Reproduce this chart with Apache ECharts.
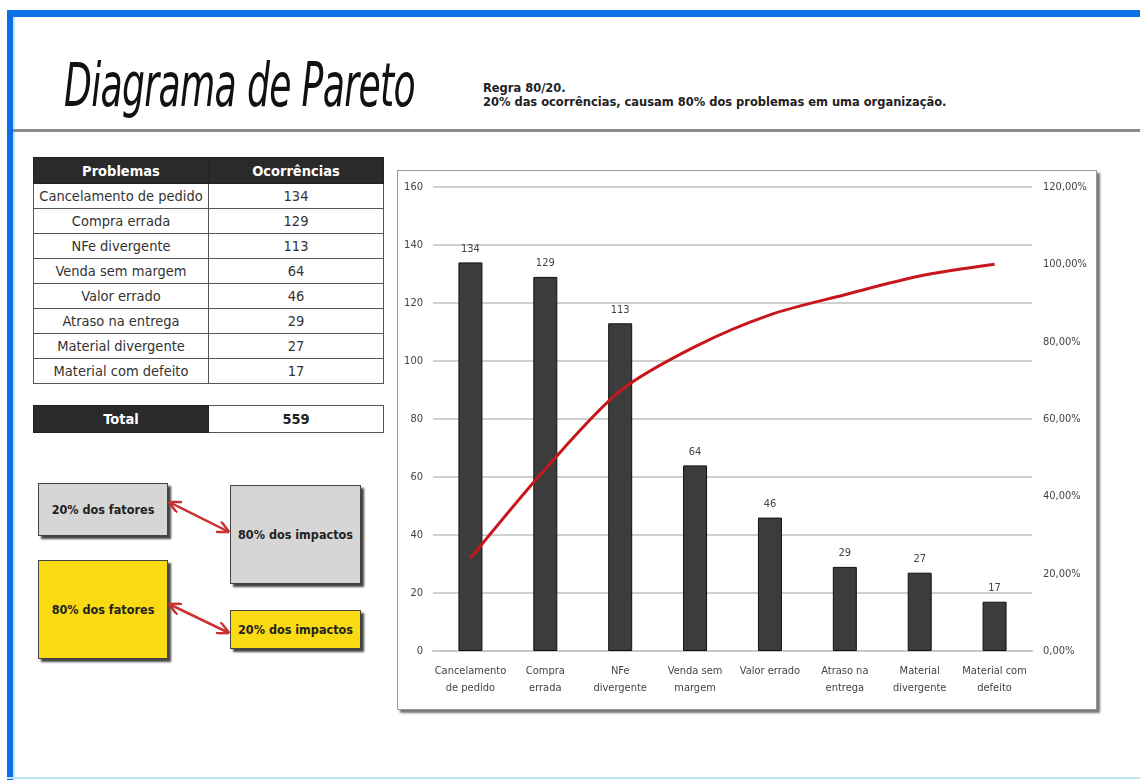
<!DOCTYPE html>
<html>
<head>
<meta charset="utf-8">
<script src="https://cdn.jsdelivr.net/npm/echarts@6/dist/echarts.min.js"></script>
<style>
  html, body { margin:0; padding:0; background:#fff; }
  body { width:1140px; height:780px; position:relative; overflow:hidden; font-family:"DejaVu Sans Condensed","Liberation Sans",sans-serif; color:#333; }
  .frameTop { position:absolute; left:7px; top:10px; width:1133px; height:7px; background:#0b6fe6; }
  .frameLeft { position:absolute; left:7px; top:10px; width:6px; height:770px; background:#0b6fe6; }
  .frameInner { position:absolute; left:13px; top:17px; width:2px; height:763px; background:#cfe4fb; }
  .frameBottom { position:absolute; left:7px; top:777px; width:1133px; height:2px; background:#bfe0f7; }
  .title { position:absolute; left:64px; top:50px; font-family:"DejaVu Sans Condensed","DejaVu Sans",sans-serif; font-style:italic; font-weight:200; font-size:60px; color:#111; white-space:nowrap; transform-origin:0 0; transform:scaleX(0.67); letter-spacing:-1px; }
  .sub { position:absolute; left:483px; top:81px; font-size:13px; font-weight:bold; color:#222; line-height:14px; white-space:nowrap; transform-origin:0 0; transform:scaleX(0.98); }
  .hline { position:absolute; left:13px; top:129px; width:1127px; height:3px; background:#8b8b8b; }
  table.t { position:absolute; border-collapse:collapse; font-size:14.5px; }
  table.t td { border:1px solid #555; text-align:center; padding:0; height:24px; color:#333; }
  table.t td.h { background:#2a2a2a; color:#fff; font-weight:bold; border-color:#222; }
  .box { position:absolute; border:1px solid #444; box-shadow:3px 3px 2px #444; display:flex; align-items:center; justify-content:center; font-weight:bold; font-size:12.5px; color:#222; white-space:nowrap; }
  .gray { background:#d6d6d6; }
  .yellow { background:#fada12; }
  #panel { position:absolute; left:397px; top:170px; width:700px; height:540px; border:1px solid #9a9a9a; box-shadow:3px 3px 2px #777; background:#fff; box-sizing:border-box; }
  #chart { position:absolute; left:397px; top:170px; width:700px; height:540px; }
  svg.arrows { position:absolute; left:0; top:0; }
</style>
</head>
<body>
<div class="frameTop"></div>
<div class="frameLeft"></div>
<div class="frameInner"></div>
<div class="frameBottom"></div>
<div class="title">Diagrama de Pareto</div>
<div class="sub">Regra 80/20.<br>20% das ocorrências, causam 80% dos problemas em uma organização.</div>
<div class="hline"></div>

<table class="t" id="tbl" style="left:33px; top:157px;"></table>
<table class="t" id="tot" style="left:33px; top:405px;"></table>

<div class="box gray" style="left:38px; top:483px; width:128px; height:51px;">20% dos fatores</div>
<div class="box gray" style="left:230px; top:485px; width:129px; height:97px;">80% dos impactos</div>
<div class="box yellow" style="left:38px; top:560px; width:128px; height:97px;">80% dos fatores</div>
<div class="box yellow" style="left:230px; top:610px; width:129px; height:37px;">20% dos impactos</div>
<svg class="arrows" width="1140" height="780">
  <defs>
    <marker id="ah" viewBox="0 0 10 10" refX="8" refY="5" markerWidth="5" markerHeight="5" orient="auto-start-reverse">
      <path d="M0,0 L10,5 L0,10" fill="none" stroke="#c83232" stroke-width="2"/>
    </marker>
  </defs>
  <line x1="171" y1="503" x2="227" y2="531" stroke="#c83232" stroke-width="2.5" marker-start="url(#ah)" marker-end="url(#ah)"/>
  <line x1="171" y1="605" x2="227" y2="632" stroke="#c83232" stroke-width="2.5" marker-start="url(#ah)" marker-end="url(#ah)"/>
</svg>

<div id="panel"></div>
<div id="chart"></div>

<script>
// ---- data ----
var problems = ["Cancelamento de pedido","Compra errada","NFe divergente","Venda sem margem","Valor errado","Atraso na entrega","Material divergente","Material com defeito"];
var occurrences = [134, 129, 113, 64, 46, 29, 27, 17];
var total = 559;
var cumulativePct = [23.97, 47.05, 67.26, 78.71, 86.94, 92.13, 96.96, 100.00];
var axisLabels = ["Cancelamento\nde pedido","Compra\nerrada","NFe\ndivergente","Venda sem\nmargem","Valor errado","Atraso na\nentrega","Material\ndivergente","Material com\ndefeito"];
var leftTicks = {min:0, max:160, interval:20};
var rightTicks = {min:0, max:120, interval:20};

// ---- table ----
var tbl = document.getElementById('tbl');
var html = '<tr><td class="h" style="width:174px;height:25px;">Problemas</td><td class="h" style="width:174px;">Ocorrências</td></tr>';
for (var i = 0; i < problems.length; i++) {
  html += '<tr><td>' + problems[i] + '</td><td>' + occurrences[i] + '</td></tr>';
}
tbl.innerHTML = html;
document.getElementById('tot').innerHTML = '<tr><td class="h" style="width:174px;height:26px;">Total</td><td style="width:174px;font-weight:bold;color:#222;">' + total + '</td></tr>';

// ---- chart ----
var chart = echarts.init(document.getElementById('chart'), null, {renderer:'canvas'});
var font = '"DejaVu Sans Condensed",sans-serif';
chart.setOption({
  animation: false,
  backgroundColor: 'transparent',
  grid: { left: 36, right: 65, top: 17, bottom: 59 },
  xAxis: {
    type: 'category',
    data: problems,
    axisTick: { show: false },
    axisLine: { lineStyle: { color: '#c8c8c8', width: 2 } },
    axisLabel: {
      interval: 0, color: '#444', fontSize: 11, fontFamily: font, lineHeight: 17, margin: 12,
      formatter: function (v, idx) { return axisLabels[idx]; }
    }
  },
  yAxis: [
    {
      type: 'value', min: leftTicks.min, max: leftTicks.max, interval: leftTicks.interval,
      axisLine: { show: false }, axisTick: { show: false },
      axisLabel: { color: '#444', fontSize: 11, fontFamily: font, margin: 10 },
      splitLine: { lineStyle: { color: '#cfcfcf', width: 2 } }
    },
    {
      type: 'value', min: rightTicks.min, max: rightTicks.max, interval: rightTicks.interval,
      axisLine: { show: false }, axisTick: { show: false },
      axisLabel: { color: '#444', fontSize: 11, fontFamily: font, margin: 11,
        formatter: function (v) { return v.toFixed(2).replace('.', ',') + '%'; } },
      splitLine: { show: false }
    }
  ],
  series: [
    {
      type: 'bar', data: occurrences, barWidth: 24,
      itemStyle: { color: '#3c3c3c', borderColor: '#111', borderWidth: 1 },
      label: { show: true, position: 'top', distance: 8, color: '#444', fontSize: 11, fontFamily: font }
    },
    {
      type: 'line', yAxisIndex: 1, data: cumulativePct, smooth: 0.3, symbol: 'none',
      lineStyle: { color: '#c8171c', width: 3 }
    }
  ]
});
</script>
</body>
</html>
